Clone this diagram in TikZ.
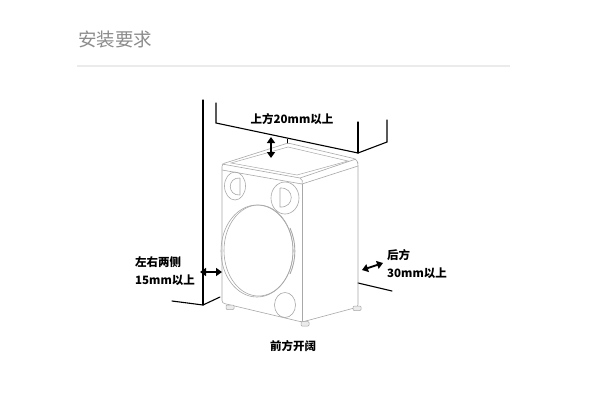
\documentclass[tikz,border=0pt]{standalone}
\usepackage{fontspec}
\newfontfamily\cjk{Noto Sans CJK SC}
\usetikzlibrary{arrows.meta,shapes.geometric}
\definecolor{titlegray}{HTML}{8C8C8C}
\definecolor{rulegray}{HTML}{EBEBEB}
\definecolor{machgray}{HTML}{A8A8A8}
\begin{document}
\begin{tikzpicture}[x=1pt,y=-1pt,
  wall/.style={line width=1.1pt, draw=black, line cap=round},
  mach/.style={line width=0.6pt, draw=machgray},
  dblarrow/.style={line width=1.8pt, draw=black, {Triangle[length=6pt,width=8pt]}-{Triangle[length=6pt,width=8pt]}},
  lbl/.style={font=\cjk\bfseries\fontsize{11.5}{13}\selectfont, inner sep=0pt, text=black},
  foot/.style={line width=0.5pt, draw=machgray, fill=black!8, rounded corners=1pt}]
\useasboundingbox (0,0) rectangle (600,408);
\fill[white] (0,0) rectangle (600,408);

% title and rule
\node[font=\cjk\fontsize{18.5}{20}\selectfont, text=titlegray, inner sep=0pt, anchor=west] (title) at (78,39) {安装要求};
\coordinate (r1) at (77,66);
\coordinate (r2) at (510,66);
\draw[rulegray, line width=1.3pt] (r1) -- (r2);

% wall and floor (left)
\coordinate (w1) at (203,100);
\coordinate (w2) at (203,305);
\coordinate (fl1) at (172,301);
\coordinate (fl2) at (220,297);
\draw[wall] (w1) -- (w2);
\draw[wall] (fl1) -- (w2) -- (fl2);

% cabinet above
\coordinate (c1) at (216,103);
\coordinate (c2) at (216,123);
\coordinate (c3) at (358,153);
\coordinate (c4) at (358,122);
\coordinate (c5) at (387,142);
\coordinate (c6) at (387,120);
\draw[wall] (c1) -- (c2) -- (c3) -- (c5) -- (c6);
\draw[wall] (c3) -- (c4);
\coordinate (t1) at (287,138.5);
\coordinate (t2) at (287,143.5);
\draw[line width=0.6pt, black] (t1) -- (t2);

% back floor line
\coordinate (b1) at (358,283);
\coordinate (b2) at (392,291);
\draw[wall] (b1) -- (b2);

% machine body
\coordinate (FL) at (222,164);
\coordinate (BL) at (288,143);
\coordinate (BR) at (356,159);
\coordinate (FR) at (300,178);
\coordinate (ffTL) at (222,170);
\coordinate (ffBL) at (222,303);
\coordinate (ffBR) at (302,322);
\coordinate (ffTR) at (302,184);
\coordinate (sTR) at (358,163);
\coordinate (sBR) at (358,307);
\coordinate (sLid) at (358,166);
\draw[mach, rounded corners=2.5pt] (ffBL) -- (FL) -- (BL) -- (BR) -- (sTR) -- (sBR) -- (ffBR) -- cycle;
\draw[mach] (FL) -- (FR) -- (BR);
\draw[mach] (ffTL) -- (ffTR) -- (sLid);
\draw[mach] (FR) .. controls (302.5,179) and (303,182) .. (ffTR);
\draw[mach] (ffTR) -- (ffBR);
% inner top panel
\coordinate (i1) at (231,163);
\coordinate (i2) at (288,147);
\coordinate (i3) at (348,161);
\coordinate (i4) at (297,175);
\draw[mach, line width=0.5pt] (i1) -- (i2) -- (i3) -- (i4) -- cycle;

% knobs
\node[mach, ellipse, minimum width=21pt, minimum height=28pt, inner sep=0pt] (knobL) at (235,186) {};
\draw[mach] (240,178) -- (240,195) .. controls (227,196) and (227,177) .. (240,178);
\node[mach, ellipse, minimum width=28pt, minimum height=32pt, inner sep=0pt] (knobR) at (285,198) {};
\draw[mach] (280,188) -- (280,207) .. controls (295,208) and (295,187) .. (280,188);

% drum door
\draw[mach] (257,251) ellipse [x radius=36, y radius=46];
\draw[mach] (258.5,250.5) ellipse [x radius=34.5, y radius=45.5];
\draw[mach, line width=0.9pt] (290,228) arc[start angle=-30, end angle=30, x radius=36, y radius=46] ;

% filter
\draw[mach] (285,305) ellipse [x radius=10.5, y radius=12.5];

% feet
\draw[foot] (226,305) rectangle (234,309.5);
\draw[foot] (301,321.5) rectangle (309,326);
\draw[foot] (353,306) rectangle (361,310.5);

% arrows
\coordinate (aT1) at (271,137);
\coordinate (aT2) at (271,158);
\draw[dblarrow] (aT1) -- (aT2);
\coordinate (aL1) at (200,272);
\coordinate (aL2) at (222,272);
\draw[dblarrow] (aL1) -- (aL2);
\coordinate (aR1) at (362,270);
\coordinate (aR2) at (383,263);
\draw[dblarrow] (aR1) -- (aR2);

% labels
\node[lbl] (top) at (292,119) {上方20mm以上};
\node[lbl, anchor=west] (left1) at (135,262.5) {左右两侧};
\node[lbl, anchor=west] (left2) at (135,280) {15mm以上};
\node[lbl, anchor=west] (right1) at (387,255) {后方};
\node[lbl, anchor=west] (right2) at (387,273.5) {30mm以上};
\node[lbl] (front) at (293,346) {前方开阔};
\end{tikzpicture}
\end{document}
